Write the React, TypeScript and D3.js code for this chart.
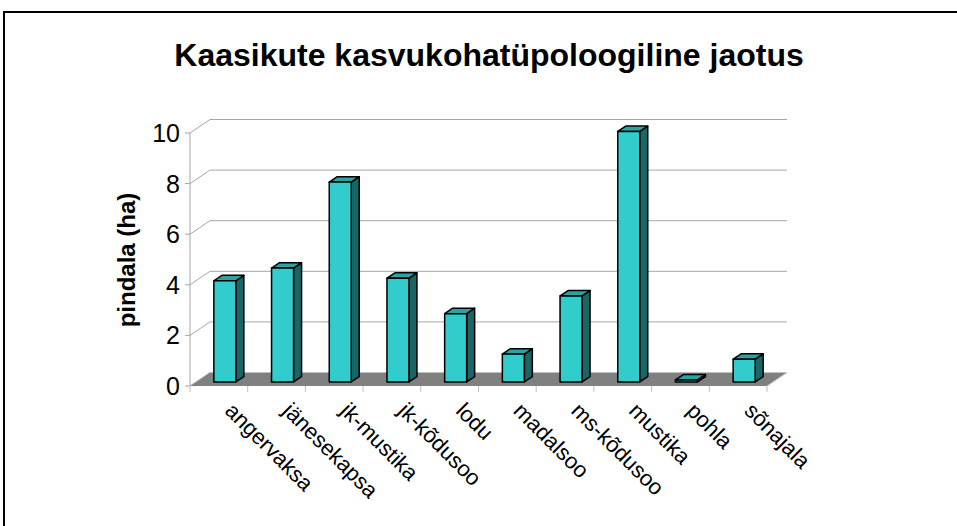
import React, { useRef, useEffect } from 'react';
import * as d3 from 'd3';

// andmed
const categories = [
  'angervaksa', 'jänesekapsa', 'jk-mustika', 'jk-kõdusoo', 'lodu',
  'madalsoo', 'ms-kõdusoo', 'mustika', 'pohla', 'sõnajala'
];
const areas = [4.0, 4.5, 7.9, 4.1, 2.7, 1.1, 3.4, 9.9, 0.08, 0.9];
const yTicks = [0, 2, 4, 6, 8, 10];

const title = 'Kaasikute kasvukohatüpoloogiline jaotus';
const yTitle = 'pindala (ha)';

const App = () => {
  const svgRef = useRef<SVGSVGElement>(null);

  useEffect(() => {
    const svg = d3.select(svgRef.current);
    svg.selectAll('*').remove();

    const W = 957, H = 526;
    const font = '"Liberation Sans", Arial, sans-serif';
    // 3D sügavus
    const depthX = 20, depthY = -13.5;
    const f0 = 0.3, f1 = 0.7;

    const xScale = d3.scaleBand<string>().domain(categories).range([190, 767]).padding(0);
    const yScale = d3.scaleLinear().domain([0, 10]).range([386, 133]);

    svg.attr('width', W).attr('height', H);

    // raam
    svg.append('rect')
      .attr('x', 4).attr('y', 12).attr('width', 1000).attr('height', 600)
      .attr('fill', '#fff').attr('stroke', '#000').attr('stroke-width', 2);

    svg.append('text')
      .attr('x', 489).attr('y', 66)
      .attr('text-anchor', 'middle')
      .style('font-family', font).style('font-size', '32px').style('font-weight', 'bold')
      .text(title);

    const x0 = xScale.range()[0], x1 = xScale.range()[1];

    // põrand
    svg.append('polygon')
      .attr('points', [
        [x0, yScale(0)], [x1, yScale(0)],
        [x1 + depthX, yScale(0) + depthY], [x0 + depthX, yScale(0) + depthY]
      ].map(p => p.join(',')).join(' '))
      .attr('fill', '#808080');

    // võrgujooned
    const grid = svg.append('g').attr('stroke', '#a6a6a6').attr('stroke-width', 1).attr('fill', 'none');
    yTicks.forEach(t => {
      const y = yScale(t);
      grid.append('line')
        .attr('x1', x0).attr('y1', y).attr('x2', x0 + depthX).attr('y2', y + depthY);
      if (t > 0) {
        grid.append('line')
          .attr('x1', x0 + depthX).attr('y1', y + depthY).attr('x2', x1 + depthX).attr('y2', y + depthY);
      }
      grid.append('line')
        .attr('x1', x0 - 5).attr('y1', y).attr('x2', x0).attr('y2', y);
    });
    grid.append('line')
      .attr('x1', x0).attr('y1', yScale(10)).attr('x2', x0).attr('y2', yScale(0));
    grid.append('line')
      .attr('x1', x1).attr('y1', yScale(0)).attr('x2', x1 + depthX).attr('y2', yScale(0) + depthY)
      .attr('stroke', '#c0c0c0');

    // x-telje jaotised
    [...categories.map(c => xScale(c) as number), x1].forEach(x => {
      grid.append('line')
        .attr('x1', x).attr('y1', yScale(0)).attr('x2', x).attr('y2', yScale(0) + 6)
        .attr('stroke', '#c0c0c0');
    });

    // y-telje sildid
    svg.append('g').selectAll('text')
      .data(yTicks).enter().append('text')
      .attr('x', 180).attr('y', d => yScale(d) + 9)
      .attr('text-anchor', 'end')
      .style('font-family', font).style('font-size', '25px')
      .text(d => d);

    svg.append('text')
      .attr('transform', 'translate(135,260) rotate(-90)')
      .attr('text-anchor', 'middle')
      .style('font-family', font).style('font-size', '24px').style('font-weight', 'bold')
      .text(yTitle);

    // tulbad
    const barW = 22;
    const bars = svg.append('g').attr('stroke', '#000').attr('stroke-width', 1.5).attr('stroke-linejoin', 'round');
    categories.forEach((c, i) => {
      const cx = (xScale(c) as number) + xScale.bandwidth() / 2;
      const fx = cx - barW / 2 + depthX * f0;
      const fb = yScale(0) + depthY * f0;
      const ft = yScale(areas[i]) + depthY * f0;
      const dx = depthX * (f1 - f0), dy = depthY * (f1 - f0);
      const pts = (p: number[][]) => p.map(q => q.join(',')).join(' ');
      // külg
      bars.append('polygon')
        .attr('points', pts([[fx + barW, fb], [fx + barW + dx, fb + dy], [fx + barW + dx, ft + dy], [fx + barW, ft]]))
        .attr('fill', '#1a6666');
      // pealmine
      bars.append('polygon')
        .attr('points', pts([[fx, ft], [fx + barW, ft], [fx + barW + dx, ft + dy], [fx + dx, ft + dy]]))
        .attr('fill', '#2aa3a3');
      // esikülg
      bars.append('rect')
        .attr('x', fx).attr('y', ft).attr('width', barW).attr('height', fb - ft)
        .attr('fill', '#33cccc');
    });

    // kategooriate sildid
    svg.append('g').selectAll('text')
      .data(categories).enter().append('text')
      .attr('transform', d => `translate(${(xScale(d) as number) + xScale.bandwidth() / 2 + 5},${412}) rotate(45)`)
      .attr('text-anchor', 'start')
      .style('font-family', font).style('font-size', '22px')
      .text(d => d);
  }, []);

  return (
    <svg ref={svgRef} style={{ position: 'absolute', left: 0, top: 0, display: 'block' }} />
  );
};

export default App;
